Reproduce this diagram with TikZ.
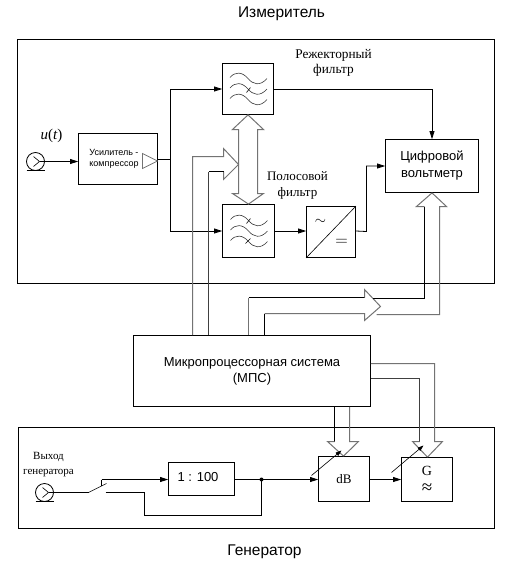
\documentclass[tikz,border=0pt]{standalone}
\usepackage{fontspec}
\setmainfont{Liberation Serif}
\setsansfont{Liberation Sans}
\usetikzlibrary{arrows.meta}
\definecolor{busgray}{gray}{0.45}
\definecolor{busdark}{gray}{0.25}
\tikzset{blk/.style={draw,thick,inner sep=0pt,font=\sffamily},
	frm/.style={draw,thick,inner sep=0pt},
	lbl/.style={align=center,inner sep=0pt},
	bus/.style={draw=busgray,line width=1pt,line join=miter},
	busd/.style={draw=busdark,line width=1pt,line join=miter},
	sig/.style={thick,-{Triangle[length=8pt,width=5pt]}},
	wire/.style={thick},
	fine/.style={line width=.6pt}}
\newcommand{\waves}[2]{
	\foreach \yy in {-10.5,0,10.5}{
		\draw[fine,black!80] (#1-18,#2+\yy-1) .. controls (#1-13,#2+\yy-7) and (#1-6,#2+\yy-7) .. (#1,#2+\yy) .. controls (#1+5,#2+\yy+6) and (#1+12,#2+\yy+8) .. (#1+19,#2+\yy);
	}
}
\newcommand{\source}[3]{
	\node[circle,draw,thick,minimum size=18pt,inner sep=0pt] (#1) at (#2,#3) {};
	\coordinate (#1tip) at (#2+4,#3);
	\draw[fine] (#2-2,#3-5) -- (#1tip) -- (#2-2,#3+5);
	\draw[thick] (#2-9,#3+9) -- (#2+9,#3+9);
}
\begin{document}
\begin{tikzpicture}[x=1pt,y=-1pt]
	\useasboundingbox (-.5,-.5) rectangle (515.5,567.5);
	% frames and titles
	\node[frm,minimum width=477pt,minimum height=244pt] (meas) at (255.5,161) {};
	\node[frm,minimum width=476pt,minimum height=101pt] (gen) at (256,477.5) {};
	\node[lbl,font=\sffamily\fontsize{15.5}{17}\selectfont] (tmeas) at (281,13) {Измеритель};
	\node[lbl,font=\sffamily\fontsize{15.5}{17}\selectfont] (tgen) at (264,551) {Генератор};
	% upper blocks
	\node[blk,minimum width=79pt,minimum height=51pt] (amp) at (117.5,158.5) {};
	\node[lbl,align=left,font=\sffamily\fontsize{9}{11.5}\selectfont] (tamp) at (113.5,158.5) {Усилитель -\\компрессор};
	\node[blk,minimum width=51pt,minimum height=51pt] (notch) at (247.5,88.5) {};
	\node[blk,minimum width=52pt,minimum height=53pt] (band) at (248,230.5) {};
	\node[blk,minimum width=49pt,minimum height=51pt] (adc) at (330.5,231.5) {};
	\node[blk,align=center,minimum width=93pt,minimum height=53pt,font=\sffamily\fontsize{13}{17}\selectfont] (volt) at (431.5,165.5) {Цифровой\\вольтметр};
	\node[blk,align=center,minimum width=237pt,minimum height=71pt,font=\sffamily\fontsize{13}{16}\selectfont] (mps) at (251.5,370.5) {Микропроцессорная система\\(МПС)};
	% lower blocks
	\node[blk,minimum width=66pt,minimum height=33pt] (att) at (201,478.5) {};
	\node[lbl,font=\sffamily\fontsize{13}{15}\selectfont] (tatt) at (197.5,477) {1 : 100};
	\node[blk,minimum width=51pt,minimum height=45pt,font=\rmfamily\fontsize{13}{15}\selectfont] (db) at (343.5,478.5) {\raisebox{-5pt}{dB}};
	\node[blk,align=center,minimum width=51pt,minimum height=44pt,font=\rmfamily\fontsize{14}{18}\selectfont] (gnr) at (426.5,479) {G\\{\fontsize{19}{18}\selectfont ≈}};
	% labels
	\node[lbl,font=\rmfamily\fontsize{13.3}{15}\selectfont] (tnotch) at (333,62.5) {Режекторный\\фильтр};
	\node[lbl,font=\rmfamily\fontsize{13}{16}\selectfont] (tband) at (297,185) {Полосовой\\фильтр};
	\node[lbl,font=\rmfamily\fontsize{11}{15}\selectfont] (tout) at (48,464.5) {Выход\\генератора};
	\node[lbl,font=\rmfamily\fontsize{15}{17}\selectfont] (tu) at (51,135) {\textit{u}(\textit{t})};
	% symbols
	\waves{247.5}{88.5}
	\waves{248}{230.5}
	\draw[fine] (246,92) -- (250,87);
	\draw[fine] (246,223) -- (250,218);
	\draw[fine] (245,243) -- (250,238);
	\draw[fine] (adc.south west) -- (adc.north east);
	\node[lbl,font=\fontsize{14}{14}\selectfont] (tac) at (320,221) {$\sim$};
	\node[lbl,font=\fontsize{17}{17}\selectfont] (tdc) at (341,242) {$=$};
	\draw[busgray,thick] (142,153) -- (157,160.5) -- (142,168) -- cycle;
	\source{src}{35}{161}
	\source{out}{44}{492}
	% measuring chain
	\draw[sig] (srctip) -- (amp.west |- srctip);
	\coordinate (fork) at (170,159);
	\draw[wire] (amp.east |- fork) -- (fork);
	\draw[sig] (fork) |- (notch.west);
	\draw[sig] (fork) |- (band.west);
	\draw[sig] (notch.east) -| (volt.north);
	\draw[sig] (band.east) -- (adc.west |- band.east);
	\draw[sig] (adc.east |- band.east) -- (366,231) |- (volt.west);
	% double arrow between the filters
	\draw[bus] (notch.south) -- (232,129) -- (238,129) -- (238,193) -- (232,193) -- (band.north) -- (263,193) -- (257,193) -- (257,129) -- (263,129) -- cycle;
	% buses from the processor
	\draw[bus] (mps.north -| 192,0) -- (192,156) -- (223,156) -- (223,148) -- (238,164) -- (223,179) -- (223,171);
	\draw[wire] (223,171) -- (208,171);
	\draw[busd] (208,171) -- (mps.north -| 208,0);
	\draw[bus] (mps.north -| 248,0) -- (248,297);
	\draw[wire] (248,297) -- (364,297);
	\draw[bus] (364,297) -- (364,289) -- (380,306) -- (364,320) -- (364,313) -- (264,313);
	\draw[wire] (264,313) -- (mps.north -| 264,0);
	\draw[wire] (372,298) -- (424,298) -- (424,206);
	\draw[bus] (424,206) -- (416,206) -- (volt.south);
	\draw[bus] (376,314) -- (439,314) -- (439,206) -- (446,206) -- (volt.south);
	% buses to the generator blocks
	\draw[wire] (mps.south -| 334,0) -- (334,441);
	\draw[bus] (334,441) -- (327,441) -- (db.north -| 343,0);
	\draw[bus] (mps.south -| 349,0) -- (349,441) -- (358,441) -- (db.north -| 343,0);
	\draw[busd] (mps.east |- 0,378) -- (419,378) -- (419,441);
	\draw[bus] (419,441) -- (412,441) -- (gnr.north -| 427,0);
	\draw[bus] (mps.east |- 0,363) -- (434,363) -- (434,441) -- (442,441) -- (gnr.north -| 427,0);
	% generator chain
	\coordinate (swa) at (88,492);
	\coordinate (swb) at (106,483);
	\coordinate (swc) at (101,479);
	\coordinate (swd) at (105,492);
	\coordinate (joint) at (261,479);
	\draw[wire] (outtip) -- (swa);
	\draw[fine] (swa) -- (swb);
	\draw[sig] (swc) -- (att.west |- swc);
	\draw[wire] (swc) -- (101,485);
	\draw[wire] (swd) -- (144,492) -- (144,515) -- (261,515) -- (joint);
	\draw[wire] (att.east |- joint) -- (joint);
	\fill (joint) circle (2pt);
	\draw[sig] (joint) -- (db.west |- joint);
	\draw[sig] (db.east |- joint) -- (gnr.west |- joint);
	% tuning marks
	\coordinate (dba) at (311,475);
	\coordinate (dbb) at (341,450);
	\coordinate (gna) at (391,472);
	\coordinate (gnb) at (423,445);
	\draw[fine,-{Triangle[length=6pt,width=4pt]}] (dba) -- (dbb);
	\draw[fine,-{Triangle[length=6pt,width=4pt]}] (gna) -- (gnb);
\end{tikzpicture}
\end{document}
